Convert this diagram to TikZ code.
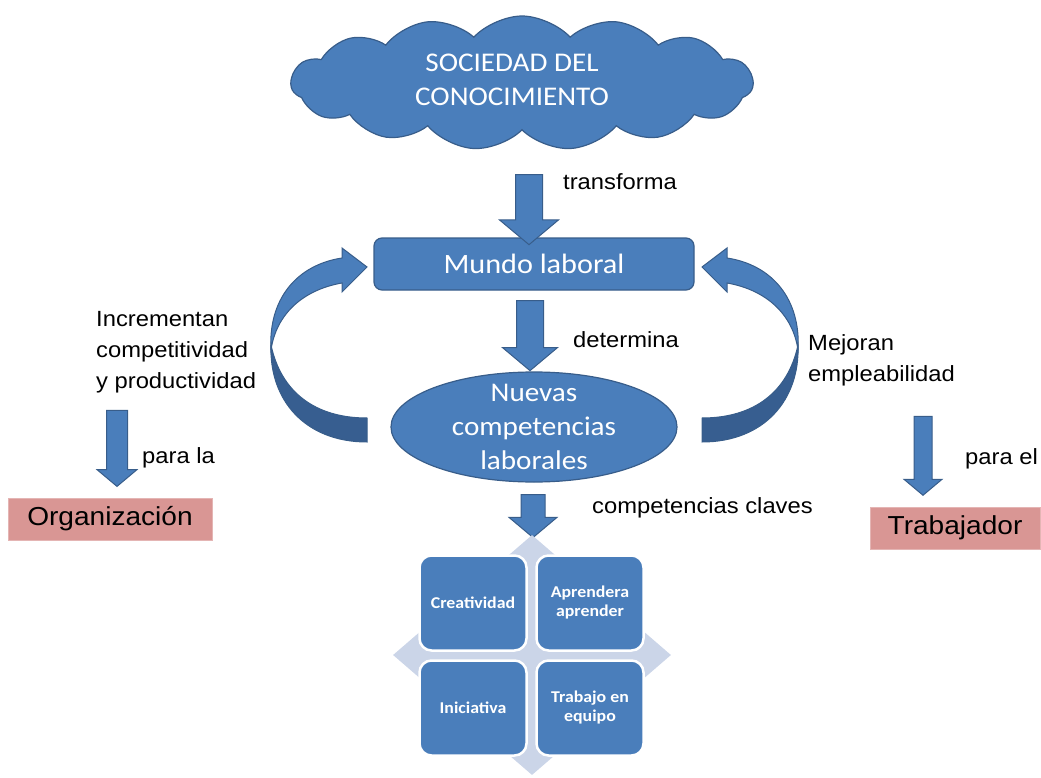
\documentclass[tikz,border=0pt]{standalone}
\usepackage{fontspec}
\setmainfont{Liberation Sans}[FakeStretch=1.08]
\newfontfamily\calibri{Carlito}[FakeStretch=1.08]
\usetikzlibrary{shapes.symbols,shapes.arrows,shapes.geometric,positioning}

\definecolor{boxblue}{RGB}{74,126,187}
\definecolor{edgeblue}{RGB}{56,93,138}
\definecolor{shadeblue}{RGB}{55,94,144}
\definecolor{rosebox}{RGB}{217,150,148}
\definecolor{paleblue}{RGB}{203,213,232}

\newcommand\bendarrow{%
  \fill[boxblue, draw=edgeblue, line width=1pt] (342,258)
    .. controls (296,265) and (268,300) .. (271,350)
    .. controls (276,315) and (302,290) .. (342,283)
    -- (342,292) -- (367,267) -- (342,248) -- cycle;
  \fill[shadeblue, draw=edgeblue, line width=1pt] (367,442)
    .. controls (305,442) and (269,400) .. (271,345)
    .. controls (281,392) and (315,418) .. (367,418) -- cycle;
}

\tikzset{
  blueshape/.style={fill=boxblue, draw=edgeblue, line width=1.2pt, text=white},
  downarrow/.style 2 args={single arrow, shape border rotate=270, fill=boxblue, draw=edgeblue,
    line width=1pt, single arrow head extend=#2, single arrow head indent=0pt,
    single arrow tip angle=100, inner sep=0pt, text width=#1, text height=0pt, text depth=0pt},
  tag/.style={font=\fontsize{22}{31}\selectfont, align=left, anchor=west, inner sep=0pt},
  target/.style={fill=rosebox, draw=rosebox!70!white, line width=1pt,
    font=\fontsize{26}{28}\selectfont, minimum height=42pt},
  keybox/.style={fill=boxblue, draw=white, line width=2.5pt, rounded corners=12pt,
    minimum width=107pt, minimum height=95pt, text=white, align=center,
    font=\calibri\bfseries\fontsize{16.5}{19}\selectfont}
}

\begin{document}
\begin{tikzpicture}[x=1pt, y=-1pt]
\useasboundingbox (0,0) rectangle (1041,778);

\node[cloud, cloud puffs=15, cloud puff arc=95, aspect=3.4, blueshape,
  minimum width=462pt, minimum height=134pt] (society) at (522,83) {};
\node[text=white, align=center, font=\calibri\fontsize{27}{34}\selectfont] (societytext) at (512,80) {SOCIEDAD DEL\\CONOCIMIENTO};

\node[blueshape, rounded corners=8pt, minimum width=320pt, minimum height=52pt,
  font=\calibri\fontsize{28}{30}\selectfont] (world) at (534,264) {Mundo laboral};

\node[ellipse, blueshape, minimum width=286pt, minimum height=110pt, inner sep=0pt] (skills) at (534,427) {};
\node[text=white, align=center, font=\calibri\fontsize{27}{34}\selectfont] (skillstext) at (skills) {Nuevas\\competencias\\laborales};

\node[downarrow={26pt}{16pt}, minimum height=70pt] (arrowa) at (529,204) {};
\node[downarrow={26pt}{14pt}, minimum height=70pt] (arrowb) at (530,330) {};
\node[downarrow={23pt}{12pt}, minimum height=43pt] (arrowc) at (533,511) {};

\node[tag] (transforma) at (563,182) {transforma};
\node[tag] (determina) at (573,340) {determina};
\node[tag] (claves) at (592,508) {competencias claves};

\bendarrow
\begin{scope}[shift={(1069,0)}, xscale=-1]
  \bendarrow
\end{scope}

\node[tag] (incrementan) at (96,352) {Incrementan\\competitividad\\y productividad};
\node[downarrow={20pt}{9.5pt}, minimum height=76pt] (arrowl) at (117,444) {};
\node[tag] (parala) at (142,458) {para la};
\node[target, minimum width=204pt] (org) at (110,519) {Organización};

\node[tag] (mejoran) at (808,360) {Mejoran\\empleabilidad};
\node[downarrow={17pt}{10pt}, minimum height=79pt] (arrowr) at (923,452) {};
\node[tag] (parael) at (965,459) {para el};
\node[target, minimum width=170pt] (worker) at (955,528) {Trabajador};

\node[diamond, fill=paleblue, minimum width=278pt, minimum height=240pt, inner sep=0pt] (hub) at (532,655) {};
\node[keybox] (creat) at (473,603) {Creatividad};
\node[keybox] (learn) at (590,603) {Aprendera\\aprender};
\node[keybox] (initiative) at (473,708) {Iniciativa};
\node[keybox] (team) at (590,708) {Trabajo en\\equipo};
\end{tikzpicture}
\end{document}
